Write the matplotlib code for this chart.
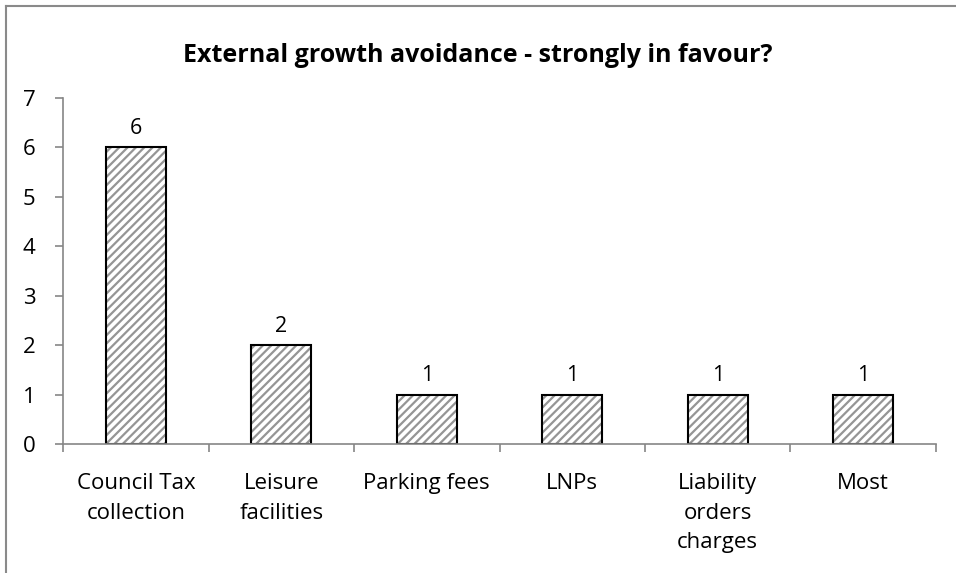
import matplotlib.pyplot as plt
from matplotlib.lines import Line2D
import numpy as np

# --- data ---
categories = ["Council Tax\ncollection", "Leisure\nfacilities", "Parking fees",
              "LNPs", "Liability\norders\ncharges", "Most"]
counts = [6, 2, 1, 1, 1, 1]
title = "External growth avoidance - strongly in favour?"

plt.rcParams['font.family'] = ['Open Sans', 'DejaVu Sans']
plt.rcParams['hatch.linewidth'] = 1.6

fig = plt.figure(figsize=(9.56, 5.73), dpi=100)
ax = fig.add_axes([0.066, 0.225, 0.913, 0.604])

x = np.arange(len(categories))
# hatched fill (grey stripes), then black outline on top
ax.bar(x, counts, width=0.41, color='white', edgecolor='#959595',
       linewidth=0, hatch='////')
ax.bar(x, counts, width=0.41, color='none', edgecolor='black', linewidth=1.5)

for xi, v in zip(x, counts):
    ax.text(xi, v + 0.17, str(v), ha='center', va='bottom', fontsize=15.5)

ax.set_xlim(-0.5, len(categories) - 0.5)
ax.set_ylim(0, 7)
ax.set_yticks(range(0, 8))
ax.set_xticks(x)
ax.set_xticklabels(categories, fontsize=16, linespacing=1.52)
ax.set_xticks(np.arange(-0.5, len(categories)), minor=True)
ax.tick_params(axis='x', which='major', length=0, pad=21)
ax.tick_params(axis='x', which='minor', length=6, color='#868686', width=1.2)
ax.tick_params(axis='y', length=6, color='#868686', width=1.2, labelsize=16, pad=14)

for s in ['top', 'right']:
    ax.spines[s].set_visible(False)
for s in ['left', 'bottom']:
    ax.spines[s].set_color('#868686')
    ax.spines[s].set_linewidth(1.2)

fig.text(0.5, 0.903, title, ha='center', va='center', fontsize=18, fontweight='bold')

# outer chart border (only top and left visible in the crop)
fig.add_artist(Line2D([0.006, 1.0], [0.989, 0.989], color='#8a8a8a', lw=1.5,
                      transform=fig.transFigure))
fig.add_artist(Line2D([0.006, 0.006], [0.0, 0.989], color='#8a8a8a', lw=1.5,
                      transform=fig.transFigure))

fig.savefig("out.png", dpi=100)
